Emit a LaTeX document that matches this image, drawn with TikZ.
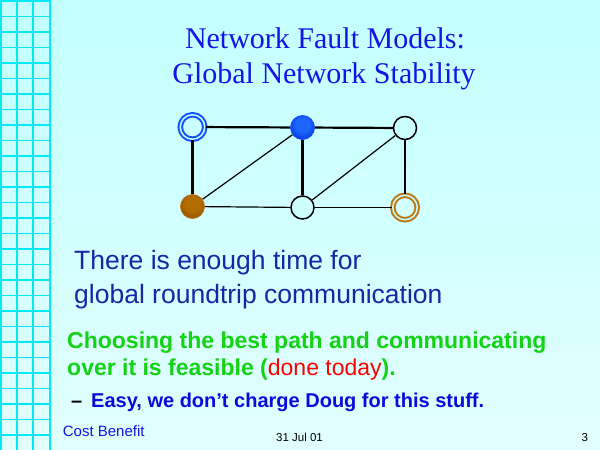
\documentclass[tikz,border=0pt]{standalone}
\usepackage{fontspec}
\setmainfont{Liberation Serif}
\newfontfamily\arialf{Liberation Sans}
\definecolor{bgtop}{RGB}{195,255,255}
\definecolor{bgbot}{RGB}{226,255,255}
\definecolor{gridc}{RGB}{0,235,245}
\definecolor{titleblue}{RGB}{20,20,230}
\definecolor{darkblue}{RGB}{20,40,165}
\definecolor{boldblue}{RGB}{10,10,220}
\definecolor{greentext}{RGB}{20,210,20}
\definecolor{redtext}{RGB}{255,0,0}
\definecolor{ringblue}{RGB}{20,80,255}
\definecolor{ringbrown}{RGB}{190,120,20}
\definecolor{bhi}{RGB}{30,100,255}
\definecolor{bmid}{RGB}{0,55,215}
\definecolor{blo}{RGB}{0,20,100}
\definecolor{dhi}{RGB}{180,110,0}
\definecolor{dmid}{RGB}{145,80,0}
\definecolor{dlo}{RGB}{75,40,0}
\definecolor{dline}{RGB}{190,120,30}
\definecolor{efill}{RGB}{205,255,255}
\pgfdeclareradialshading{blueball}{\pgfpoint{0bp}{8bp}}{color(0bp)=(bhi); color(15bp)=(bhi); color(30bp)=(bmid); color(45bp)=(blo); color(50bp)=(blo)}
\pgfdeclareradialshading{brownball}{\pgfpoint{0bp}{8bp}}{color(0bp)=(dhi); color(15bp)=(dhi); color(30bp)=(dmid); color(45bp)=(dlo); color(50bp)=(dlo)}
\tikzset{
  gridline/.style={draw=gridc, line width=1.2pt},
  ringnode/.style={circle, minimum size=24.5pt, inner sep=0pt, line width=2pt, double=bgtop, double distance=1.5pt},
  ballnode/.style={circle, minimum size=24pt, inner sep=0pt, line width=0.8pt},
  plainnode/.style={circle, minimum size=23pt, inner sep=0pt, line width=1.5pt, draw=black},
  thickedge/.style={draw=black, line width=2.2pt},
  thinedge/.style={draw=black, line width=1.2pt},
  titletext/.style={inner sep=0pt, anchor=base, text=titleblue, font=\fontsize{30}{30}\selectfont},
  bodytext/.style={inner sep=0pt, anchor=base west, text=darkblue, font=\arialf\fontsize{26.5}{26.5}\selectfont},
  greenline/.style={inner sep=0pt, anchor=base west, text=greentext, font=\arialf\bfseries\fontsize{23}{23}\selectfont},
  easytext/.style={inner sep=0pt, anchor=base west, font=\arialf\bfseries\fontsize{20}{20}\selectfont},
  foottext/.style={inner sep=0pt, font=\arialf\fontsize{11.5}{11.5}\selectfont, text=black}
}
\begin{document}
\begin{tikzpicture}[x=1pt,y=-1pt]
\useasboundingbox (0,0) rectangle (600,450);
\shade[top color=bgtop, bottom color=bgbot] (0,0) rectangle (600,450);
% left grid
\foreach \x in {1,17,33,50} \draw[gridline] (\x,0) -- (\x,450);
\foreach \k in {0,...,29} \draw[gridline] (0,{1+15.5*\k}) -- (50.6,{1+15.5*\k});
% title
\node[titletext] (t1) at (325,48) {Network Fault Models:};
\node[titletext] (t2) at (324,83) {Global Network Stability};
% graph nodes
\node[ringnode, draw=ringblue] (A) at (192.5,127) {};
\node[ballnode, draw=ringblue, shading=blueball] (B) at (302.5,127.5) {};
\node[plainnode] (C) at (405,128) {};
\node[ballnode, draw=dline, shading=brownball] (D) at (192.5,206.5) {};
\node[plainnode, fill=efill] (E) at (302.5,207.5) {};
\node[ringnode, draw=ringbrown] (F) at (405,207.5) {};
% edges
\draw[thickedge] (A) -- (B);
\draw[thickedge] (A) -- (D);
\draw[thickedge] (B) -- (C);
\draw[thickedge] (B) -- (E);
\draw[thinedge] (B) -- (D);
\draw[thinedge] (C) -- (E);
\draw[thinedge] (C) -- (F);
\draw[thinedge] (D) -- (E);
\draw[thinedge] (E) -- (F);
% body text
\node[bodytext] (l1) at (74,269) {There is enough time for};
\node[bodytext] (l2) at (74,303) {global roundtrip communication};
\node[greenline] (g1) at (67,348) {Choosing the best path and communicating};
\node[greenline] (g2) at (67,375) {over it is feasible ({\mdseries\color{redtext}done today}).};
\node[easytext, text=black] (dash) at (71,407) {–};
\node[easytext, text=boldblue] (easy) at (91,407) {Easy, we don’t charge Doug for this stuff.};
% footer
\node[inner sep=0pt, anchor=base west, text=titleblue, font=\arialf\fontsize{15}{15}\selectfont] (cb) at (62.7,436.7) {Cost Benefit};
\node[foottext, anchor=base west] (date) at (276,441) {31 Jul 01};
\node[foottext, anchor=base east] (pg) at (588.3,441) {3};
\end{tikzpicture}
\end{document}
